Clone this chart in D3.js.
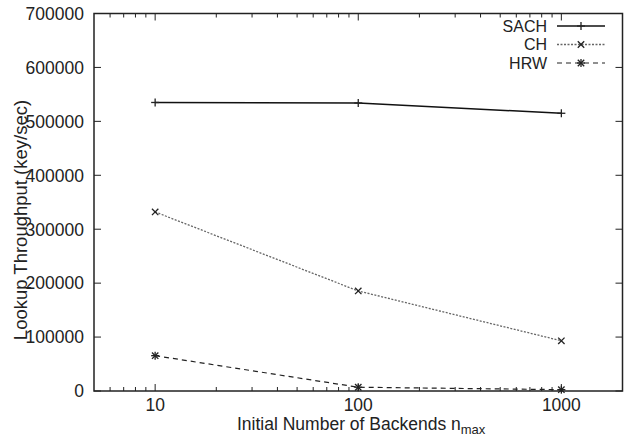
<!DOCTYPE html>
<html>
<head>
<meta charset="utf-8">
<script src="https://cdn.jsdelivr.net/npm/d3@7"></script>
<style>
  body { margin:0; background:#fff; }
  text { font-family: "Liberation Sans", Arial, sans-serif; fill:#222; }
</style>
</head>
<body>
<div class="canvas"></div>
<script>
// data
const backends = [10, 100, 1000]
const sach = [535000, 534000, 515000]
const ch = [332000, 185500, 93000]
const hrw = [65500, 7000, 2500]
const yTicks = [0, 100000, 200000, 300000, 400000, 500000, 600000, 700000]
const xTicks = [10, 100, 1000]

const margin = { top:13.5, right:10.5, bottom:46, left:94 }
const width = 633, height = 437
const graphWidth = width - margin.left - margin.right
const graphHeight = height - margin.top - margin.bottom

const svg = d3.select('.canvas').append('svg').attr('width', width).attr('height', height)
const graph = svg.append('g').attr('transform', `translate(${margin.left},${margin.top})`)

// scales
const x = d3.scaleLog().domain([5, 2000]).range([0, graphWidth])
const y = d3.scaleLinear().domain([0, 700000]).range([graphHeight, 0])

// minor ticks for log axis
const minorTicks = []
for (let dec = 1; dec <= 1000; dec *= 10) {
  for (let k = 2; k <= 9; k++) {
    const v = dec * k
    if (v > 5 && v < 2000 && !xTicks.includes(v)) minorTicks.push(v)
  }
}

const tickColor = '#222'
// y ticks (left and right, inward)
yTicks.forEach(t => {
  graph.append('line').attr('x1', 0).attr('x2', 7).attr('y1', y(t)).attr('y2', y(t)).attr('stroke', tickColor).attr('stroke-width', 1)
  graph.append('line').attr('x1', graphWidth).attr('x2', graphWidth - 7).attr('y1', y(t)).attr('y2', y(t)).attr('stroke', tickColor).attr('stroke-width', 1)
  graph.append('text').attr('x', -10).attr('y', y(t)).attr('dy', '0.36em').attr('text-anchor', 'end')
    .style('font-size', '17.5px').text(t)
})
// x ticks (bottom and top)
xTicks.forEach(t => {
  graph.append('line').attr('x1', x(t)).attr('x2', x(t)).attr('y1', graphHeight).attr('y2', graphHeight - 7).attr('stroke', tickColor)
  graph.append('line').attr('x1', x(t)).attr('x2', x(t)).attr('y1', 0).attr('y2', 7).attr('stroke', tickColor)
  graph.append('text').attr('x', x(t)).attr('y', graphHeight + 20).attr('text-anchor', 'middle')
    .style('font-size', '17.5px').text(t)
})
minorTicks.forEach(t => {
  graph.append('line').attr('x1', x(t)).attr('x2', x(t)).attr('y1', graphHeight).attr('y2', graphHeight - 4).attr('stroke', tickColor)
  graph.append('line').attr('x1', x(t)).attr('x2', x(t)).attr('y1', 0).attr('y2', 4).attr('stroke', tickColor)
})

// frame
graph.append('rect').attr('width', graphWidth).attr('height', graphHeight)
  .attr('fill', 'none').attr('stroke', '#222').attr('stroke-width', 1.5)

// axis titles
svg.append('text').attr('transform', `translate(20,220) rotate(-90)`).attr('dy', '0.36em')
  .attr('text-anchor', 'middle').style('font-size', '18.5px').text('Lookup Throughput (key/sec)')
const xl = svg.append('text').attr('x', 237).attr('y', 430)
  .style('font-size', '17.5px')
xl.append('tspan').text('Initial Number of Backends n')
xl.append('tspan').attr('dy', 4).style('font-size', '13px').text('max')

// markers
const marker = (g, type, cx, cy, color) => {
  const s = 4
  const seg = (x1, y1, x2, y2) => g.append('line').attr('x1', cx + x1).attr('y1', cy + y1).attr('x2', cx + x2).attr('y2', cy + y2)
    .attr('stroke', color).attr('stroke-width', 1.3)
  if (type === 'plus' || type === 'star') { seg(-s, 0, s, 0); seg(0, -s, 0, s) }
  if (type === 'cross' || type === 'star') { seg(-s*0.8, -s*0.8, s*0.8, s*0.8); seg(-s*0.8, s*0.8, s*0.8, -s*0.8) }
}

const series = [
  { name:'SACH', values:sach, color:'#111', dash:null, width:1.5, mark:'plus' },
  { name:'CH', values:ch, color:'#666', dash:'2,1.5', width:1.3, mark:'cross' },
  { name:'HRW', values:hrw, color:'#222', dash:'5,4', width:1.2, mark:'star' }
]

const line = d3.line().x(d => x(d.x)).y(d => y(d.y))

series.forEach((s, i) => {
  const pts = backends.map((b, j) => ({ x:b, y:s.values[j] }))
  graph.append('path').datum(pts).attr('fill', 'none').attr('stroke', s.color)
    .attr('stroke-width', s.width).attr('stroke-dasharray', s.dash).attr('d', line)
  pts.forEach(p => marker(graph, s.mark, x(p.x), y(p.y), '#222'))

  // legend
  const ly = 26 + i * 18.5
  svg.append('text').attr('x', 547).attr('y', ly).attr('dy', '0.36em').attr('text-anchor', 'end')
    .style('font-size', '16px').text(s.name)
  svg.append('line').attr('x1', 557).attr('x2', 605).attr('y1', ly).attr('y2', ly)
    .attr('stroke', s.color).attr('stroke-width', s.width).attr('stroke-dasharray', s.dash)
  marker(svg, s.mark, 581, ly, '#222')
})
</script>
</body>
</html>
